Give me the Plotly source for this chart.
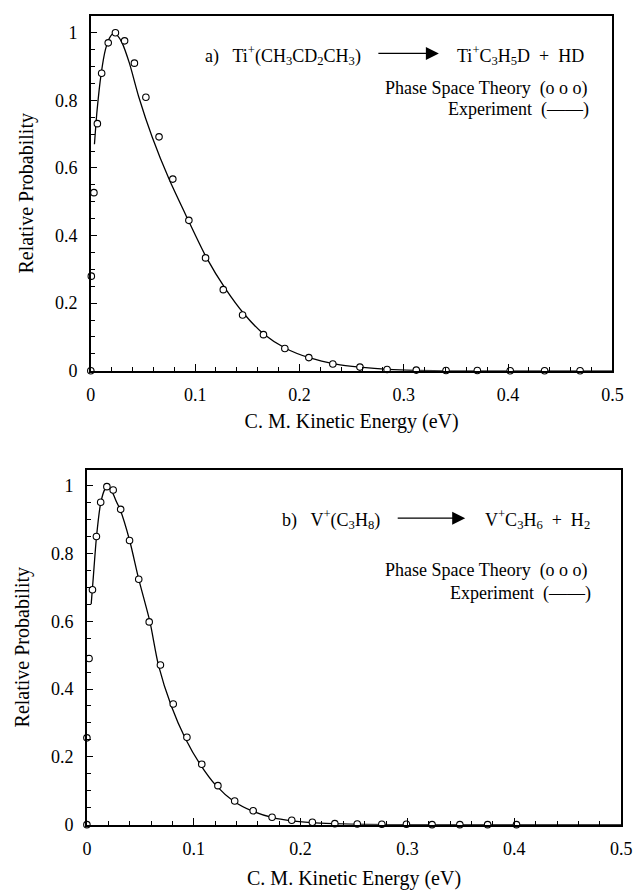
import plotly.graph_objects as go

# ---------------- data ----------------
x_tick_vals = [0, 0.1, 0.2, 0.3, 0.4, 0.5]
x_tick_text = ["0", "0.1", "0.2", "0.3", "0.4", "0.5"]
y_tick_vals = [0, 0.2, 0.4, 0.6, 0.8, 1.0]
y_tick_text = ["0", "0.2", "0.4", "0.6", "0.8", "1"]

# (a) Ti+(CH3CD2CH3) -> Ti+C3H5D + HD
ti_pst_x = [0.0, 0.0005, 0.003, 0.0063, 0.0104, 0.0167, 0.0236, 0.0324, 0.0418, 0.0528,
            0.0654, 0.0786, 0.094, 0.110, 0.127, 0.1455, 0.1655, 0.186, 0.209, 0.232,
            0.258, 0.284, 0.312, 0.3405, 0.3705, 0.402, 0.435, 0.469]
ti_pst_y = [0.0, 0.28, 0.527, 0.731, 0.88, 0.97, 1.0, 0.976, 0.91, 0.809,
            0.692, 0.567, 0.445, 0.334, 0.24, 0.165, 0.107, 0.066, 0.039, 0.02,
            0.011, 0.004, 0.002, 0.001, 0.001, 0.0, 0.0, 0.0]
ti_exp_x = [0.0035, 0.006, 0.010, 0.014, 0.018, 0.022, 0.026, 0.030, 0.037, 0.046,
            0.059, 0.075, 0.0927, 0.111, 0.129, 0.147, 0.166, 0.187, 0.210, 0.235,
            0.258, 0.285, 0.310, 0.340, 0.500]
ti_exp_y = [0.67, 0.77, 0.88, 0.95, 0.985, 0.998, 0.99, 0.97, 0.91, 0.81,
            0.69, 0.567, 0.45, 0.334, 0.243, 0.168, 0.108, 0.066, 0.038, 0.02,
            0.011, 0.004, 0.001, 0.0, 0.0]

# (b) V+(C3H8) -> V+C3H6 + H2
v_pst_x = [0.0, 0.0, 0.002, 0.0052, 0.0089, 0.0129, 0.0187, 0.0246, 0.0316, 0.0399,
           0.0485, 0.0583, 0.0688, 0.0808, 0.0936, 0.1075, 0.1226, 0.1383, 0.1556, 0.1733,
           0.1917, 0.211, 0.232, 0.253, 0.276, 0.299, 0.323, 0.349, 0.375, 0.402]
v_pst_y = [0.0, 0.256, 0.49, 0.693, 0.85, 0.951, 0.997, 0.987, 0.93, 0.838,
           0.724, 0.598, 0.471, 0.356, 0.258, 0.178, 0.115, 0.070, 0.041, 0.022,
           0.013, 0.007, 0.003, 0.002, 0.001, 0.001, 0.0, 0.0, 0.0, 0.0]
v_exp_x = [0.004, 0.006, 0.009, 0.013, 0.017, 0.0195, 0.023, 0.028, 0.031, 0.040,
           0.0485, 0.059, 0.067, 0.079, 0.092, 0.106, 0.121, 0.137, 0.155, 0.175,
           0.19, 0.21, 0.23, 0.26, 0.3, 0.5]
v_exp_y = [0.65, 0.73, 0.85, 0.95, 0.99, 0.995, 0.985, 0.95, 0.93, 0.838,
           0.724, 0.598, 0.47, 0.35, 0.255, 0.178, 0.115, 0.07, 0.04, 0.02,
           0.012, 0.006, 0.003, 0.001, 0.0, 0.0]

# ---------------- figure ----------------
W, H = 640, 893
FONT = "Liberation Serif"
NB = "\u00a0"

def px(x):
    return x / W

def py(y):
    return (H - y) / H

fig = go.Figure()

line_style = dict(color="black", width=1.3, shape="spline", smoothing=0.7)
marker_style = dict(symbol="circle", size=6.5, color="white", line=dict(color="black", width=1.1))

fig.add_trace(go.Scatter(x=ti_exp_x, y=ti_exp_y, mode="lines", line=line_style,
                         xaxis="x", yaxis="y", showlegend=False, cliponaxis=False))
fig.add_trace(go.Scatter(x=ti_pst_x, y=ti_pst_y, mode="markers", marker=marker_style,
                         xaxis="x", yaxis="y", showlegend=False, cliponaxis=False))
fig.add_trace(go.Scatter(x=v_exp_x, y=v_exp_y, mode="lines", line=line_style,
                         xaxis="x2", yaxis="y2", showlegend=False, cliponaxis=False))
fig.add_trace(go.Scatter(x=v_pst_x, y=v_pst_y, mode="markers", marker=marker_style,
                         xaxis="x2", yaxis="y2", showlegend=False, cliponaxis=False))

tickfont = dict(family=FONT, size=18, color="black")
titlefont = dict(family=FONT, size=20, color="black")

def xaxis_cfg(domain, anchor, standoff):
    return dict(domain=domain, anchor=anchor, range=[0, 0.5],
                tickmode="array", tickvals=x_tick_vals, ticktext=x_tick_text,
                ticks="inside", ticklen=7, tickwidth=1, tickcolor="black",
                minor=dict(tickmode="linear", tick0=0, dtick=0.02, ticks="inside",
                           ticklen=4, tickwidth=1, tickcolor="black"),
                showline=True, linecolor="black", linewidth=1.5, mirror=True,
                showgrid=False, zeroline=False, tickfont=tickfont,
                ticklabelstandoff=7,
                title=dict(text="C. M. Kinetic Energy (eV)", font=titlefont, standoff=standoff))

def yaxis_cfg(domain, anchor, top):
    return dict(domain=domain, anchor=anchor, range=[0, top],
                tickmode="array", tickvals=y_tick_vals, ticktext=y_tick_text,
                ticks="inside", ticklen=6, tickwidth=1, tickcolor="black",
                minor=dict(tickmode="linear", tick0=0, dtick=0.05, ticks="inside",
                           ticklen=4, tickwidth=1, tickcolor="black"),
                showline=True, linecolor="black", linewidth=1.5, mirror=True,
                showgrid=False, zeroline=False, tickfont=tickfont,
                ticklabelstandoff=8,
                title=dict(text="Relative Probability", font=titlefont, standoff=16))

fig.update_layout(
    width=W, height=H,
    margin=dict(l=0, r=0, t=0, b=0),
    paper_bgcolor="white", plot_bgcolor="white",
    font=dict(family=FONT, color="black"),
    xaxis=xaxis_cfg([px(88), px(623)], "y", 10),
    yaxis=yaxis_cfg([py(375), py(16)], "x", 1.05),
    xaxis2=xaxis_cfg([px(84), px(632)], "y2", 13),
    yaxis2=yaxis_cfg([py(834), py(475)], "x2", 1.047),
)

annfont = dict(family=FONT, size=18, color="black")

def text_ann(x, y, text, anchor):
    fig.add_annotation(x=px(x), y=py(y), xref="paper", yref="paper", text=text,
                       showarrow=False, xanchor=anchor, yanchor="middle", font=annfont)

def arrow_ann(x0, x1, y):
    fig.add_annotation(x=px(x1), y=py(y), xref="paper", yref="paper", text="",
                       showarrow=True, ax=x0 - x1, ay=0, axref="pixel", ayref="pixel",
                       arrowhead=2, arrowsize=2.0, arrowwidth=1.3, arrowcolor="black")

# panel a
text_ann(203, 56, "a)" + NB * 3 + "Ti<sup>+</sup>(CH<sub>3</sub>CD<sub>2</sub>CH<sub>3</sub>)", "left")
arrow_ann(383, 445, 54)
text_ann(462, 56, "Ti<sup>+</sup>C<sub>3</sub>H<sub>5</sub>D" + NB * 2 + "+" + NB * 2 + "HD", "left")
text_ann(600, 90, "Phase Space Theory" + NB * 2 + "(o" + NB + "o" + NB + "o)", "right")
text_ann(601, 111, "Experiment" + NB * 2 + "(——)", "right")

# panel b
text_ann(282, 525, "b)" + NB * 3 + "V<sup>+</sup>(C<sub>3</sub>H<sub>8</sub>)", "left")
arrow_ann(403, 472, 524)
text_ann(490, 525, "V<sup>+</sup>C<sub>3</sub>H<sub>6</sub>" + NB * 2 + "+" + NB * 2 + "H<sub>2</sub>", "left")
text_ann(600, 577, "Phase Space Theory" + NB * 2 + "(o" + NB + "o" + NB + "o)", "right")
text_ann(603, 600, "Experiment" + NB * 2 + "(——)", "right")

fig.write_html("out.html")
